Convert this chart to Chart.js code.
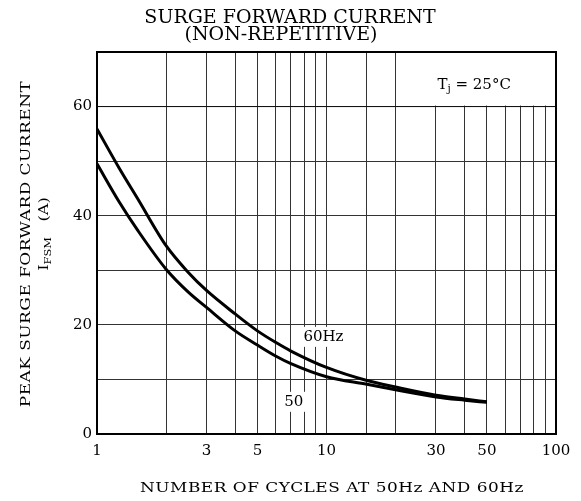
<!DOCTYPE html>
<html lang="en">
<head>
  <meta charset="UTF-8" />
  <title>Surge Forward Current</title>
  <style>
    body { margin: 0; background: #fff; }
    #wrap { width: 581px; height: 501px; position: relative; }
  </style>
</head>
<body>
  <div id="wrap"><canvas id="chartCanvas"></canvas></div>
  <script src="https://cdn.jsdelivr.net/npm/chart.js"></script>
  <script>
    // values
    const cycles = [1, 1.25, 1.5, 2, 2.5, 3, 4, 5, 6, 7, 10, 15, 20, 30, 40, 50];
    const surge60 = [55.9, 48.7, 43.2, 34.5, 29.6, 26.3, 22.0, 18.9, 16.8, 15.2, 12.2, 9.8, 8.6, 7.1, 6.4, 5.9];
    const surge50 = [49.5, 42.5, 37.4, 30.2, 26.0, 23.2, 18.9, 16.3, 14.3, 12.9, 10.5, 9.1, 8.1, 6.8, 6.2, 5.8];
    const xTickLabels = [1, 3, 5, 10, 30, 50, 100];
    const yTickLabels = [0, 20, 40, 60];

    const serif = "'DejaVu Serif', serif";

    function pts(ys) {
      return cycles.map((c, i) => ({ x: c, y: ys[i] }));
    }

    // text with a subscript part, centred on x
    function subText(ctx, parts, x, y, size) {
      let w = 0;
      parts.forEach(p => {
        ctx.font = (p[1] ? size * 0.7 : size) + 'px ' + serif;
        w += ctx.measureText(p[0]).width;
      });
      let cx = x - w / 2;
      ctx.textAlign = 'left';
      parts.forEach(p => {
        ctx.font = (p[1] ? size * 0.7 : size) + 'px ' + serif;
        ctx.fillText(p[0], cx, y + (p[1] ? size * 0.3 : 0));
        cx += ctx.measureText(p[0]).width;
      });
    }

    // the scanned labels use a wide serif: stretch DejaVu a bit
    function wideText(ctx, txt, x, y, rot) {
      ctx.save();
      ctx.translate(x, y);
      if (rot) ctx.rotate(-Math.PI / 2);
      ctx.scale(1.3, 1);
      ctx.letterSpacing = '0.4px';
      ctx.textAlign = 'center';
      ctx.fillText(txt, 0, 0);
      ctx.restore();
    }

    const decor = {
      id: 'decor',
      afterDatasetsDraw(chart) {
        const ctx = chart.ctx;
        const a = chart.chartArea;
        const xs = chart.scales.x, ys = chart.scales.y;
        ctx.save();

        // white corner box for the Tj note
        ctx.fillStyle = '#fff';
        const bx = xs.getPixelForValue(20) + 1;
        const by = ys.getPixelForValue(60) - 1;
        ctx.fillRect(bx, a.top, a.right - bx, by - a.top);
        ctx.strokeStyle = '#111';
        ctx.lineWidth = 1;
        ctx.beginPath();
        ctx.moveTo(a.left, ys.getPixelForValue(60));
        ctx.lineTo(a.right, ys.getPixelForValue(60));
        ctx.stroke();

        ctx.fillStyle = '#000';
        ctx.textBaseline = 'middle';
        subText(ctx, [['T', false], ['j', true], [' = 25°C', false]],
          xs.getPixelForValue(44), ys.getPixelForValue(64), 15);

        // curve labels
        ctx.font = '15px ' + serif;
        ctx.textAlign = 'center';
        [['60Hz', 9.7, 17.8], ['50', 7.2, 5.9]].forEach(l => {
          const px = xs.getPixelForValue(l[1]), py = ys.getPixelForValue(l[2]);
          const w = ctx.measureText(l[0]).width;
          ctx.fillStyle = '#fff';
          ctx.fillRect(px - w / 2 - 3, py - 10, w + 6, 20);
          ctx.fillStyle = '#000';
          ctx.fillText(l[0], px, py);
        });

        // frame
        ctx.strokeStyle = '#000';
        ctx.lineWidth = 2;
        ctx.strokeRect(a.left, a.top, a.right - a.left, a.bottom - a.top);

        // titles
        ctx.font = '19px ' + serif;
        ctx.textAlign = 'center';
        ctx.fillText('SURGE FORWARD CURRENT', 290, 18);
        ctx.fillText('(NON-REPETITIVE)', 281, 35);

        ctx.font = '13px ' + serif;
        wideText(ctx, 'NUMBER OF CYCLES AT 50Hz AND 60Hz', 332, 489, false);
        wideText(ctx, 'PEAK SURGE FORWARD CURRENT', 27, 244, true);

        ctx.translate(45, 234);
        ctx.rotate(-Math.PI / 2);
        ctx.scale(1.25, 1);
        subText(ctx, [['I', false], ['FSM', true], ['   (A)', false]], 0, 0, 13);
        ctx.restore();
      }
    };

    const lineStyle = {
      borderColor: '#000',
      borderWidth: 3,
      pointRadius: 0,
      fill: false,
      cubicInterpolationMode: 'monotone'
    };

    new Chart(document.getElementById('chartCanvas'), {
      type: 'line',
      data: {
        datasets: [
          Object.assign({ label: '60Hz', data: pts(surge60) }, lineStyle),
          Object.assign({ label: '50Hz', data: pts(surge50) }, lineStyle)
        ]
      },
      options: {
        responsive: true,
        maintainAspectRatio: false,
        animation: false,
        layout: { padding: { top: 52, right: 25, left: 0, bottom: 0 } },
        plugins: { legend: { display: false }, tooltip: { enabled: false } },
        scales: {
          x: {
            type: 'logarithmic',
            min: 1,
            max: 100,
            grid: { color: '#333', lineWidth: 1, drawTicks: false },
            border: { display: false },
            ticks: {
              autoSkip: false,
              maxRotation: 0,
              padding: 8,
              color: '#000',
              font: { family: serif, size: 15 },
              callback: v => xTickLabels.includes(v) ? String(v) : ''
            },
            afterFit: s => { s.height = 67; }
          },
          y: {
            min: 0,
            max: 70,
            grid: { color: '#333', lineWidth: 1, drawTicks: false },
            border: { display: false },
            ticks: {
              stepSize: 10,
              padding: 5,
              color: '#000',
              font: { family: serif, size: 15 },
              callback: v => yTickLabels.includes(v) ? String(v) : ''
            },
            afterFit: s => { s.width = 97; }
          }
        }
      },
      plugins: [decor]
    });
  </script>
</body>
</html>
